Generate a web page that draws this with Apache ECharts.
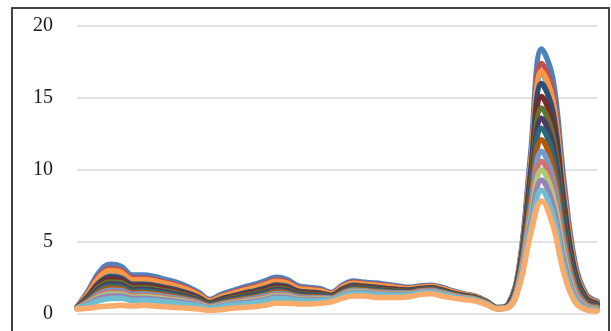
<!DOCTYPE html>
<html>
<head>
<meta charset="utf-8">
<script src="https://cdn.jsdelivr.net/npm/echarts@6/dist/echarts.min.js"></script>
<style>
  html, body { margin: 0; padding: 0; background: #ffffff; }
  #chart { width: 611px; height: 331px; }
</style>
</head>
<body>
<div id="chart"></div>
<script>
// Sample positions along the horizontal axis (labels are not displayed)
const categories = [1,2,3,4,5,6,7,8,9,10,11,12,13,14,15,16,17,18,19,20,21,22,23,24,25,26,27,28,29,30,31,32,33,34,35,36,37,38,39,40,41,42,43,44,45,46,47,48];

const yTicks = [0, 5, 10, 15, 20];

// Measured curves, one array per sample run
const s01 = [0.5,1.6,2.9,3.45,3.3,2.7,2.7,2.6,2.4,2.2, 1.9,1.5,1.0,1.35,1.6,1.85,2.05,2.3,2.55,2.4, 1.95,1.85,1.75,1.5,2.0,2.3,2.2,2.15,2.05,1.95, 1.85,1.95,2.0,1.85,1.6,1.4,1.25,0.9,0.45,0.7, 3.5,11.1,18.4,16.4,9.3,3.6,1.4,0.9];
const s02 = [0.48,1.48,2.66,3.16,3.03,2.49,2.49,2.40,2.21,2.03, 1.75,1.39,0.93,1.25,1.48,1.71,1.90,2.13,2.37,2.24, 1.83,1.74,1.65,1.44,1.91,2.20,2.11,2.05,1.96,1.87, 1.79,1.89,1.94,1.79,1.55,1.36,1.22,0.88,0.44,0.68, 3.36,10.57,17.40,15.43,8.69,3.34,1.30,0.83];
const s03 = [0.47,1.38,2.47,2.93,2.81,2.31,2.32,2.23,2.06,1.89, 1.63,1.29,0.87,1.16,1.38,1.60,1.77,1.99,2.23,2.10, 1.73,1.64,1.57,1.38,1.84,2.11,2.03,1.97,1.89,1.81, 1.73,1.84,1.89,1.74,1.51,1.33,1.19,0.86,0.43,0.66, 3.27,10.26,16.80,14.85,8.32,3.18,1.23,0.79];
const s04 = [0.47,1.34,2.37,2.81,2.71,2.23,2.24,2.15,1.98,1.82, 1.57,1.25,0.84,1.12,1.34,1.54,1.71,1.93,2.15,2.04, 1.68,1.60,1.53,1.36,1.80,2.07,1.99,1.93,1.85,1.77, 1.71,1.82,1.87,1.72,1.49,1.31,1.17,0.85,0.43,0.66, 3.27,10.23,16.75,14.81,8.29,3.17,1.23,0.79];
const s05 = [0.46,1.29,2.28,2.70,2.60,2.14,2.15,2.07,1.91,1.75, 1.51,1.20,0.81,1.08,1.29,1.49,1.65,1.86,2.08,1.97, 1.63,1.55,1.49,1.33,1.77,2.03,1.95,1.89,1.82,1.74, 1.68,1.79,1.84,1.69,1.47,1.30,1.16,0.84,0.42,0.66, 3.26,10.21,16.70,14.76,8.26,3.16,1.22,0.79];
const s06 = [0.48,1.42,2.54,3.02,2.90,2.38,2.39,2.29,2.12,1.94, 1.68,1.33,0.89,1.19,1.42,1.64,1.82,2.05,2.28,2.15, 1.76,1.68,1.60,1.40,1.87,2.14,2.06,2.00,1.92,1.83, 1.75,1.86,1.91,1.76,1.53,1.34,1.20,0.86,0.44,0.66, 3.28,10.28,16.85,14.90,8.35,3.20,1.24,0.80];
const s07 = [0.46,1.24,2.18,2.58,2.49,2.06,2.07,1.99,1.83,1.68, 1.45,1.16,0.78,1.04,1.24,1.43,1.59,1.79,2.01,1.91, 1.58,1.51,1.45,1.31,1.73,1.99,1.92,1.85,1.78,1.71, 1.66,1.77,1.82,1.67,1.45,1.28,1.15,0.83,0.42,0.64, 3.16,9.84,16.00,14.09,7.84,2.98,1.15,0.74];
const s08 = [0.45,1.17,2.04,2.41,2.33,1.93,1.94,1.86,1.72,1.57, 1.36,1.09,0.73,0.97,1.17,1.35,1.49,1.69,1.90,1.81, 1.50,1.44,1.39,1.27,1.68,1.92,1.86,1.79,1.73,1.66, 1.62,1.73,1.78,1.63,1.42,1.26,1.12,0.81,0.41,0.62, 3.03,9.36,15.10,13.21,7.28,2.74,1.06,0.68];
const s09 = [0.44,1.10,1.89,2.23,2.17,1.80,1.82,1.74,1.60,1.47, 1.27,1.02,0.69,0.91,1.10,1.26,1.40,1.59,1.79,1.71, 1.43,1.37,1.33,1.23,1.62,1.86,1.80,1.73,1.67,1.61, 1.58,1.70,1.75,1.60,1.39,1.23,1.10,0.80,0.41,0.60, 2.92,8.94,14.30,12.43,6.79,2.53,0.97,0.63];
const s10 = [0.43,1.04,1.77,2.09,2.03,1.69,1.71,1.64,1.51,1.38, 1.20,0.96,0.65,0.86,1.04,1.19,1.32,1.50,1.70,1.63, 1.36,1.31,1.28,1.20,1.58,1.81,1.75,1.68,1.63,1.57, 1.55,1.67,1.72,1.57,1.37,1.21,1.09,0.78,0.40,0.59, 2.82,8.58,13.60,11.76,6.37,2.35,0.90,0.58];
const s11 = [0.42,0.98,1.65,1.94,1.90,1.58,1.61,1.53,1.41,1.29, 1.12,0.90,0.61,0.80,0.98,1.12,1.24,1.42,1.61,1.54, 1.30,1.25,1.23,1.16,1.53,1.75,1.71,1.63,1.58,1.53, 1.51,1.64,1.69,1.54,1.34,1.19,1.07,0.77,0.40,0.57, 2.72,8.21,12.90,11.09,5.94,2.17,0.83,0.54];
const s12 = [0.42,0.92,1.53,1.80,1.76,1.47,1.50,1.43,1.32,1.20, 1.05,0.85,0.57,0.75,0.92,1.05,1.17,1.33,1.52,1.46, 1.24,1.20,1.18,1.13,1.49,1.70,1.66,1.58,1.54,1.49, 1.48,1.61,1.66,1.51,1.32,1.17,1.05,0.76,0.39,0.55, 2.60,7.79,12.10,10.31,5.45,1.96,0.74,0.48];
const s13 = [0.41,0.86,1.41,1.65,1.63,1.37,1.40,1.33,1.22,1.12, 0.97,0.79,0.54,0.70,0.86,0.98,1.09,1.25,1.43,1.38, 1.18,1.14,1.13,1.10,1.44,1.65,1.61,1.53,1.49,1.45, 1.45,1.58,1.63,1.48,1.29,1.15,1.03,0.75,0.39,0.53, 2.49,7.37,11.30,9.54,4.96,1.75,0.66,0.43];
const s14 = [0.40,0.80,1.29,1.51,1.49,1.26,1.29,1.23,1.13,1.03, 0.90,0.73,0.50,0.65,0.80,0.91,1.01,1.16,1.34,1.30, 1.11,1.08,1.08,1.07,1.40,1.60,1.56,1.48,1.45,1.41, 1.42,1.55,1.60,1.45,1.27,1.13,1.02,0.73,0.38,0.52, 2.39,7.00,10.60,8.86,4.53,1.57,0.59,0.38];
const s15 = [0.39,0.75,1.20,1.39,1.38,1.17,1.21,1.15,1.05,0.96, 0.84,0.68,0.47,0.61,0.75,0.86,0.95,1.09,1.27,1.23, 1.06,1.03,1.04,1.04,1.36,1.56,1.53,1.44,1.41,1.38, 1.39,1.52,1.57,1.42,1.25,1.12,1.00,0.72,0.38,0.50, 2.31,6.68,10.00,8.28,4.17,1.41,0.52,0.34];
const s16 = [0.39,0.69,1.08,1.25,1.25,1.07,1.10,1.04,0.96,0.87, 0.76,0.63,0.43,0.55,0.69,0.79,0.87,1.01,1.18,1.15, 1.00,0.98,0.99,1.01,1.32,1.50,1.48,1.39,1.37,1.34, 1.36,1.49,1.54,1.39,1.22,1.10,0.98,0.71,0.37,0.48, 2.21,6.31,9.30,7.60,3.73,1.23,0.45,0.30];
const s17 = [0.38,0.62,0.93,1.07,1.09,0.94,0.98,0.92,0.84,0.77, 0.67,0.56,0.39,0.49,0.62,0.70,0.78,0.91,1.07,1.05, 0.93,0.91,0.93,0.97,1.26,1.44,1.42,1.33,1.31,1.29, 1.32,1.46,1.51,1.36,1.19,1.07,0.96,0.70,0.37,0.47, 2.11,5.94,8.60,6.92,3.31,1.05,0.38,0.25];
const s18 = [0.35,0.4,0.5,0.55,0.6,0.55,0.6,0.55,0.5,0.45, 0.4,0.35,0.25,0.3,0.4,0.45,0.5,0.6,0.75,0.75, 0.7,0.7,0.75,0.85,1.1,1.25,1.25,1.15,1.15,1.15, 1.2,1.35,1.4,1.25,1.1,1.0,0.9,0.65,0.35,0.45, 2.0,5.55,7.85,6.2,2.85,0.85,0.3,0.2];

const runs = [s01, s02, s03, s04, s05, s06, s07, s08, s09, s10, s11, s12, s13, s14, s15, s16, s17, s18];

const palette = ['#4F81BD','#C0504D','#9BBB59','#8064A2','#4BACC6','#F79646',
                 '#2C4D75','#772C2A','#5F7530','#4D3B62','#276A7C','#B65708',
                 '#729ACA','#CD7371','#AFC97A','#9983B5','#6FBDD1','#F9AB6B'];

const chart = echarts.init(document.getElementById('chart'), null, { renderer: 'canvas' });

chart.setOption({
  animation: false,
  backgroundColor: '#ffffff',
  grid: { left: 77, right: 14, top: 26, bottom: 17, containLabel: false },
  graphic: [{
    type: 'rect',
    silent: true,
    z: 100,
    shape: { x: 12, y: 8, width: 597, height: 360 },
    style: { fill: 'none', stroke: '#444444', lineWidth: 2 }
  }],
  xAxis: {
    type: 'category',
    data: categories,
    boundaryGap: false,
    axisLine: { show: false },
    axisTick: { show: false },
    axisLabel: { show: false },
    splitLine: { show: false }
  },
  yAxis: {
    type: 'value',
    min: yTicks[0],
    max: yTicks[yTicks.length - 1],
    interval: yTicks[1] - yTicks[0],
    axisLine: { show: false },
    axisTick: { show: false },
    axisLabel: {
      margin: 24,
      fontFamily: 'Liberation Serif',
      fontSize: 20,
      color: '#1a1a1a'
    },
    splitLine: { lineStyle: { color: '#d9d9d9', width: 1.5 } }
  },
  series: runs.map((values, k) => ({
    type: 'line',
    name: 'S' + (k + 1),
    data: values,
    smooth: 0.4,
    showSymbol: false,
    symbol: 'none',
    lineStyle: { color: palette[k], width: 5.5, cap: 'round', join: 'round' },
    itemStyle: { color: palette[k] }
  }))
});
</script>
</body>
</html>
